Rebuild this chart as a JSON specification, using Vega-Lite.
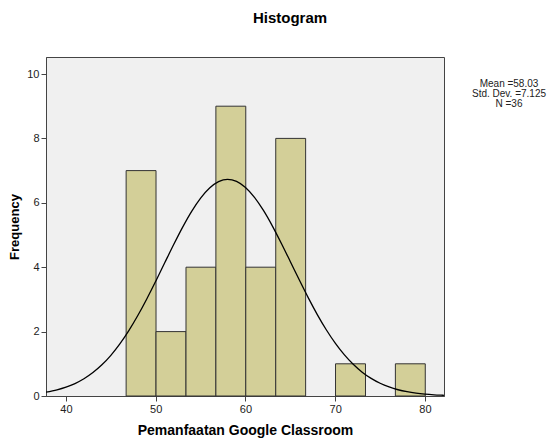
{
  "$schema": "https://vega.github.io/schema/vega-lite/v6.json",
  "width": 398,
  "height": 339,
  "autosize": {"type": "none"},
  "padding": {"left": 46, "top": 57, "right": 111, "bottom": 45},
  "background": "white",
  "title": {"text": "Histogram", "font": "Liberation Sans", "fontSize": 15, "fontWeight": "bold", "color": "#000", "anchor": "middle", "dx": 45, "offset": 31},
  "config": {
    "view": {"fill": "#F0F0F0", "stroke": "#444", "strokeWidth": 1},
    "axis": {"labelFont": "Liberation Sans", "labelFontSize": 11, "labelColor": "#222", "titleFont": "Liberation Sans", "titleColor": "#000", "titleFontWeight": "bold", "domainColor": "#444", "tickColor": "#444", "tickSize": 5, "grid": false, "labelPadding": 2}
  },
  "datasets": {
    "bins": [
      {"start": 46.7, "end": 50.03, "count": 7},
      {"start": 50.03, "end": 53.37, "count": 2},
      {"start": 53.37, "end": 56.7, "count": 4},
      {"start": 56.7, "end": 60.03, "count": 9},
      {"start": 60.03, "end": 63.37, "count": 4},
      {"start": 63.37, "end": 66.7, "count": 8},
      {"start": 70.03, "end": 73.37, "count": 1},
      {"start": 76.7, "end": 80.03, "count": 1}
    ],
    "curve": [
      {"x": 37.78, "y": 0.119}, {"x": 39, "y": 0.19}, {"x": 40, "y": 0.274}, {"x": 41, "y": 0.387},
      {"x": 42, "y": 0.536}, {"x": 43, "y": 0.728}, {"x": 44, "y": 0.968}, {"x": 45, "y": 1.264},
      {"x": 46, "y": 1.618}, {"x": 47, "y": 2.03}, {"x": 48, "y": 2.499}, {"x": 49, "y": 3.014},
      {"x": 50, "y": 3.566}, {"x": 51, "y": 4.136}, {"x": 52, "y": 4.704}, {"x": 53, "y": 5.245},
      {"x": 54, "y": 5.735}, {"x": 55, "y": 6.148}, {"x": 56, "y": 6.462}, {"x": 57, "y": 6.66},
      {"x": 58, "y": 6.73}, {"x": 59, "y": 6.668}, {"x": 60, "y": 6.478}, {"x": 61, "y": 6.17},
      {"x": 62, "y": 5.762}, {"x": 63, "y": 5.277}, {"x": 64, "y": 4.738}, {"x": 65, "y": 4.171},
      {"x": 66, "y": 3.6}, {"x": 67, "y": 3.047}, {"x": 68, "y": 2.529}, {"x": 69, "y": 2.057},
      {"x": 70, "y": 1.641}, {"x": 71, "y": 1.284}, {"x": 72, "y": 0.985}, {"x": 73, "y": 0.74},
      {"x": 74, "y": 0.546}, {"x": 75, "y": 0.395}, {"x": 76, "y": 0.28}, {"x": 77, "y": 0.194},
      {"x": 78, "y": 0.1325}, {"x": 79, "y": 0.0885}, {"x": 80, "y": 0.058}, {"x": 81, "y": 0.0372},
      {"x": 82, "y": 0.0234}, {"x": 82.11, "y": 0.022}
    ],
    "stats": [
      {"label": ["Mean =58.03", "Std. Dev. =7.125", "N =36"]}
    ]
  },
  "layer": [
    {
      "data": {"name": "bins"},
      "mark": {"type": "rect", "fill": "#D3CF98", "stroke": "#333", "strokeWidth": 1},
      "encoding": {
        "x": {"field": "start", "type": "quantitative", "scale": {"domain": [37.772, 82.117], "nice": false, "zero": false}, "axis": {"values": [40, 50, 60, 70, 80], "title": "Pemanfaatan Google Classroom", "titleFontSize": 14, "titlePadding": 9}},
        "x2": {"field": "end"},
        "y": {"field": "count", "type": "quantitative", "scale": {"domain": [0, 10.528], "nice": false}, "axis": {"values": [0, 2, 4, 6, 8, 10], "title": "Frequency", "titleFontSize": 13, "titlePadding": 5}},
        "y2": {"datum": 0}
      }
    },
    {
      "data": {"name": "curve"},
      "mark": {"type": "line", "color": "#000", "strokeWidth": 1.3, "interpolate": "monotone"},
      "encoding": {
        "x": {"field": "x", "type": "quantitative"},
        "y": {"field": "y", "type": "quantitative"}
      }
    },
    {
      "data": {"name": "stats"},
      "mark": {"type": "text", "font": "Liberation Sans", "fontSize": 10, "color": "#222", "align": "center", "baseline": "top", "lineHeight": 10, "clip": false},
      "encoding": {
        "text": {"field": "label"},
        "x": {"datum": 89.36, "type": "quantitative"},
        "y": {"datum": 9.86, "type": "quantitative"}
      }
    }
  ]
}
